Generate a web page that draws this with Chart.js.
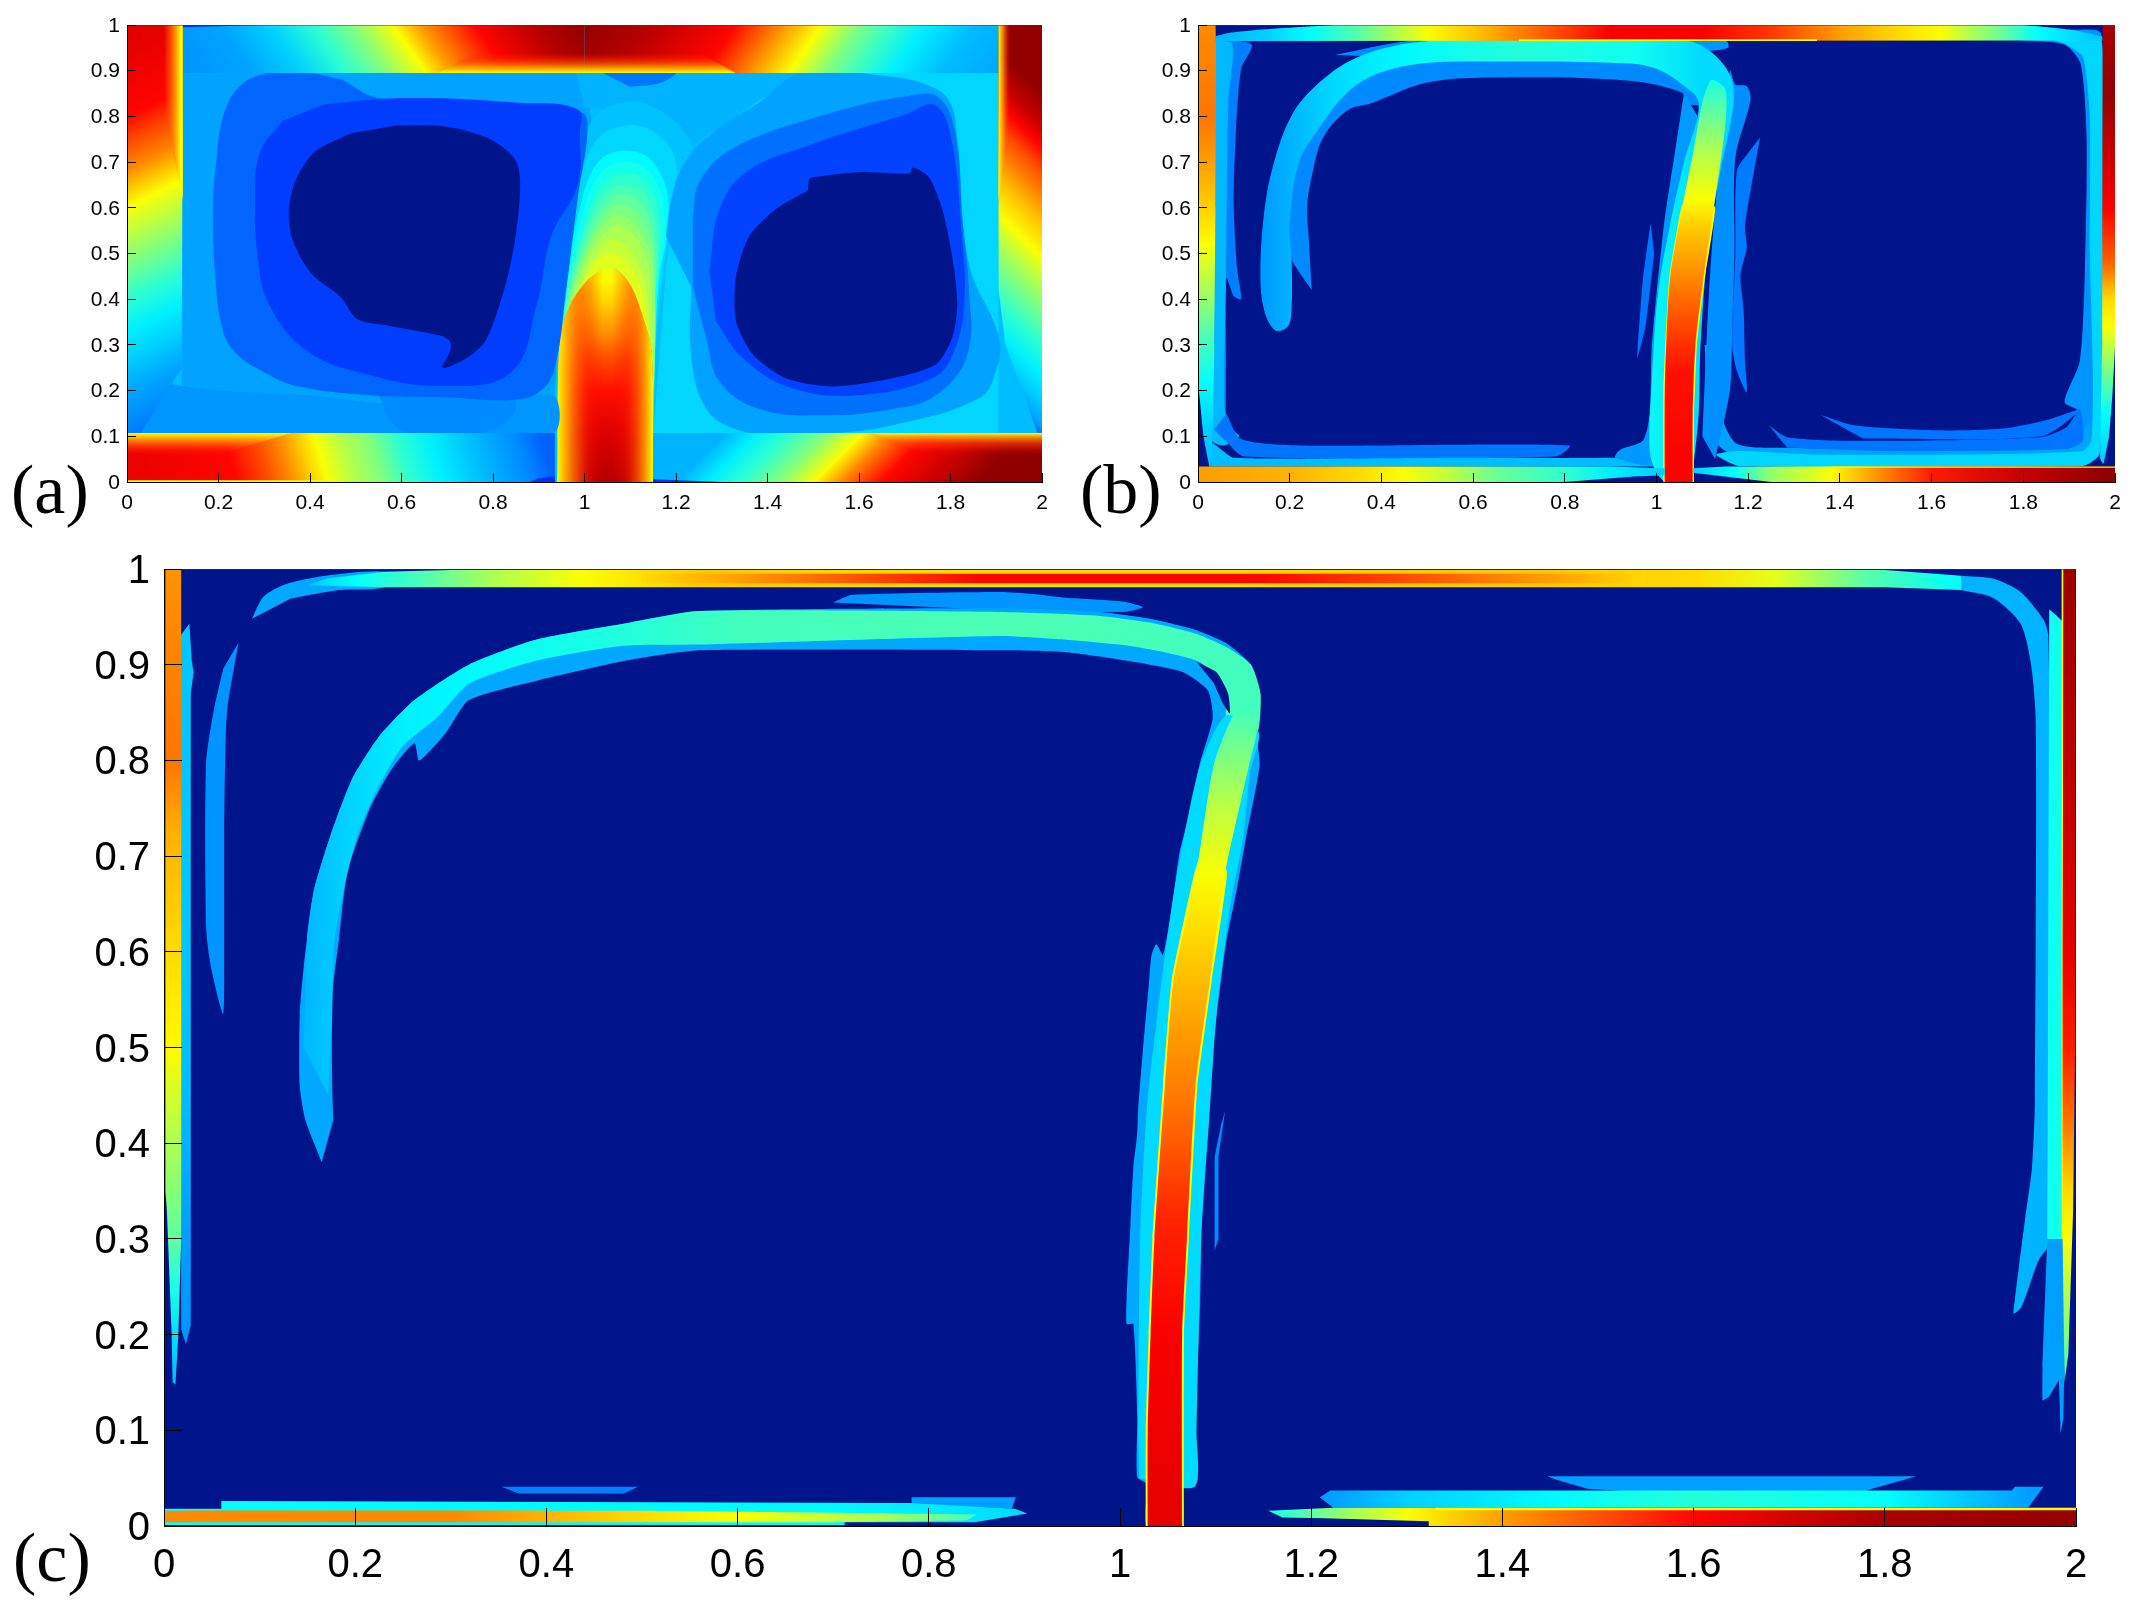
<!DOCTYPE html>
<html><head><meta charset="utf-8"><title>Panels</title>
<script src="https://cdn.jsdelivr.net/npm/chart.js@4/dist/chart.umd.min.js"></script>
<style>
html,body{margin:0;padding:0;background:#fff;width:2142px;height:1616px;overflow:hidden}
canvas{position:absolute}
.tag{position:absolute;font-family:"Liberation Serif",serif;font-size:70px;line-height:70px;color:#000}
</style></head><body>
<canvas id="pa" width="1005" height="515" style="left:60px;top:5px"></canvas>
<canvas id="pb" width="1005" height="515" style="left:1130px;top:5px"></canvas>
<canvas id="pc" width="2060" height="1076" style="left:60px;top:540px"></canvas>
<div class="tag" style="left:11px;top:455px">(a)</div>
<div class="tag" style="left:1080px;top:455px">(b)</div>
<div class="tag" style="left:13px;top:1523px">(c)</div>
<script>
const xTicks=[0,0.2,0.4,0.6,0.8,1,1.2,1.4,1.6,1.8,2];
const yTicks=[0,0.1,0.2,0.3,0.4,0.5,0.6,0.7,0.8,0.9,1];
const field=[0,0,2,0,2,1,0,1];
const frameTop=[0,1,2,1];

/* ---------- panel (a): contour outlines, x,y pairs ---------- */
const aLeftInt=[.12,.1,.12,.9,.4,.9,1,.9,1.02,.75,.95,.1];
const aRightInt=[1.15,.1,1.19,.62,1.27,.76,1.42,.86,1.5,.9,1.905,.9,1.905,.1];
const aMidTop=[.98,.9,1.5,.9,1.42,.86,1.27,.76,1.2,.72,1.1,.8,1.0,.82];
const aMidPatch=[1.03,.9,1.2,.9,1.17,.875,1.1,.865];
const aLowBand=[0,.107,.93,.107,.93,.19,.6,.17,.4,.19,.2,.2,0,.23];
const aLowLump=[.55,.19,.58,.13,.62,.107,.72,.107,.8,.115,.85,.16,.84,.19];
const aArch1=[.93,.1,.95,.4,.98,.62,1.01,.78,1.08,.83,1.17,.81,1.24,.72,1.2,.6,1.16,.3,1.15,.1];
const aArch2=[.94,.1,.95,.4,.985,.62,1.02,.74,1.09,.78,1.16,.76,1.2,.7,1.19,.6,1.155,.3,1.15,.1];
const aArch3=[.94,.1,.955,.4,.99,.6,1.03,.7,1.09,.725,1.15,.7,1.185,.6,1.165,.45,1.15,.3,1.15,.1];
const aArch3b=[.94,.1,.958,.4,.995,.58,1.035,.675,1.09,.7,1.145,.675,1.175,.58,1.16,.42,1.15,.1];
const aArch4=[.94,.1,.96,.4,1,.56,1.04,.65,1.09,.675,1.14,.65,1.165,.55,1.155,.4,1.15,.1];
const aArch4b=[.94,.1,.96,.39,1,.54,1.04,.625,1.085,.65,1.135,.625,1.16,.525,1.152,.37,1.15,.1];
const aArch5=[.94,.1,.96,.38,1,.52,1.04,.6,1.08,.63,1.13,.6,1.155,.5,1.15,.35,1.15,.1];
const aArch5b=[.94,.1,.961,.37,1,.505,1.04,.58,1.078,.607,1.125,.575,1.152,.48,1.15,.1];
const aArch6=[.94,.1,.962,.36,1,.49,1.04,.56,1.075,.585,1.12,.55,1.15,.46,1.15,.1];
const aArch6b=[.94,.1,.964,.355,1,.475,1.04,.54,1.072,.562,1.115,.53,1.145,.44,1.15,.1];
const aArch7=[.94,.1,.965,.35,1,.45,1.035,.51,1.065,.53,1.105,.5,1.137,.41,1.15,.1];
const aArch7b=[.94,.1,.965,.34,1,.44,1.03,.485,1.062,.5,1.1,.47,1.132,.39,1.15,.1];
const aCore=[.94,0,.945,.3,.965,.38,1,.435,1.03,.46,1.06,.465,1.095,.44,1.125,.37,1.147,.28,1.15,0];
const aCoreStops=[[0,.95],[.1,.91],[.2,.86],[.27,.8],[.32,.74],[.38,.68],[.44,.63],[.49,.6]];
const aCoreL=[.94,0,.945,.3,.965,.38,1,.435,1.03,.46,1.04,.462,1.04,0];
const aCoreLStops=[[.94,.62,1],[.96,.7,.9],[.985,.78,.7],[1.01,.85,.35],[1.04,.88,0]];
const aCoreR=[1.06,0,1.06,.465,1.095,.44,1.125,.37,1.147,.28,1.15,0];
const aCoreRStops=[[1.06,.88,0],[1.09,.85,.35],[1.115,.78,.7],[1.135,.7,.9],[1.15,.62,1]];
const aBlueL1=[.386,.9,.3,.893,.245,.865,.21,.8,.195,.7,.188,.6,.193,.45,.21,.33,.24,.28,.3,.24,.37,.21,.53,.19,.7,.185,.85,.18,.905,.2,.935,.25,.96,.42,.985,.62,1.007,.78,.99,.81,.8,.82,.55,.84,.47,.88];
const aBlueL2=[.43,.826,.61,.84,.855,.83,.985,.815,.99,.76,.985,.65,.928,.54,.896,.39,.84,.24,.69,.21,.53,.234,.395,.286,.31,.39,.285,.5,.28,.61,.29,.72,.34,.79];
const aDarkL=[.589,.78,.694,.778,.79,.752,.847,.708,.859,.663,.855,.582,.839,.479,.815,.39,.783,.308,.742,.271,.69,.25,.706,.286,.706,.308,.686,.32,.572,.342,.504,.356,.467,.405,.403,.456,.362,.53,.354,.597,.37,.663,.411,.723,.49,.763];
const aBlueR1=[1.178,.538,1.19,.62,1.22,.7,1.28,.765,1.38,.83,1.477,.896,1.651,.889,1.746,.87,1.797,.834,1.815,.75,1.84,.479,1.906,.316,1.899,.242,1.862,.183,1.673,.124,1.528,.105,1.418,.101,1.309,.124,1.258,.175,1.233,.279,1.233,.427];
const aBlueR2=[1.237,.582,1.251,.656,1.324,.73,1.528,.804,1.71,.845,1.775,.841,1.811,.76,1.826,.575,1.84,.427,1.837,.279,1.768,.19,1.673,.16,1.528,.146,1.382,.16,1.295,.22,1.266,.316,1.237,.427];
const aBlueR3=[1.273,.464,1.295,.597,1.353,.678,1.491,.737,1.702,.804,1.765,.825,1.8,.76,1.825,.538,1.83,.39,1.805,.279,1.76,.227,1.6,.19,1.455,.205,1.346,.271,1.287,.353];
const aDarkR=[1.491,.663,1.499,.667,1.6,.678,1.71,.675,1.718,.688,1.753,.667,1.782,.597,1.804,.493,1.815,.39,1.804,.316,1.768,.257,1.673,.227,1.542,.209,1.44,.227,1.368,.279,1.331,.353,1.331,.449,1.36,.538,1.418,.597,1.488,.638];
const aTopL=[.12,.895,.12,1,1,1,1,.895];
const aTopLStops=[[.05,.27],[.2,.285],[.31,.33],[.41,.42],[.49,.5],[.58,.62],[.637,.72],[.76,.87],[.9,.95],[1,.98]];
const aTopR=[1,.895,1,1,1.905,1,1.905,.895];
const aTopRStops=[[1,.98],[1.13,.95],[1.33,.87],[1.43,.74],[1.52,.62],[1.6,.5],[1.66,.44],[1.745,.36],[1.85,.31],[1.97,.29]];
const aTopEdge=[.68,.895,.76,.94,1.25,.94,1.33,.895];
const aTopEdgeStops=[[.895,.62,1],[.905,.7,.9],[.92,.8,.6],[.94,.87,0]];
const aTopDim=[.12,.995,.12,1,.3,1];
const aLeft=[0,.107,.03,.107,.12,.25,.122,1,0,1];
const aLeftStops=[[.05,.22],[.13,.26],[.18,.28],[.22,.3],[.27,.33],[.33,.36],[.4,.42],[.46,.48],[.52,.54],[.6,.62],[.64,.68],[.68,.74],[.74,.8],[.8,.87],[.95,.9],[1,.9]];
const aLeftEdge=[.122,.62,.122,1,.08,1,.085,.8];
const aLeftEdgeStops=[[.08,.8,0],[.09,.8,.6],[.105,.72,.9],[.118,.62,1],[.122,.62,1]];
const aBL=[0,0,.935,0,.935,.107,0,.107];
const aBLStops=[[-.04,.9],[.24,.87],[.31,.8],[.36,.74],[.4,.68],[.44,.62],[.49,.56],[.56,.5],[.62,.42],[.69,.36],[.78,.31],[.88,.26],[.935,.22]];
const aBLEdge=[0,.06,.2,.06,.36,.107,0,.107];
const aBLEdgeStops=[[.06,.85,0],[.075,.8,.5],[.095,.7,.9],[.107,.62,1]];
const aBLThin=[0,0,.43,0,.43,.004,0,.004];
const aBL0=[.88,0,.935,0,.935,.012,.9,.008];
const aBR=[1.15,0,2,0,2,.107,1.15,.107];
const aBRStops=[[1.04,.3],[1.2,.3],[1.27,.36],[1.34,.42],[1.42,.5],[1.46,.56],[1.5,.62],[1.53,.68],[1.56,.74],[1.6,.8],[1.65,.87],[1.76,.93],[1.85,.98],[2,.99]];
const aBREdge=[1.63,.107,2,.107,2,.06,1.75,.06];
const aBREdgeStops=[[.06,.87,0],[.085,.8,.6],[.1,.7,.9],[.107,.62,1]];
const aBRThin=[1.15,0,1.3,0,1.15,.006];
const aRight=[1.905,1,2,1,2,.108,1.99,.108,1.92,.3,1.905,.42];
const aRightStops=[[.09,.2],[.12,.28],[.17,.32],[.23,.36],[.3,.42],[.38,.5],[.44,.56],[.49,.62],[.56,.68],[.62,.74],[.68,.8],[.73,.87],[.78,.93],[.85,.98],[1,.98]];
const aRightEdge=[1.905,.62,1.905,1,1.93,1,1.93,.76];
const aRightEdgeStops=[[1.905,.62,1],[1.915,.72,.8],[1.93,.85,0]];

/* ---------- panel (b) ---------- */
const bLeftBlue=[.036,.968,.117,.957,.094,.904,.082,.754,.078,.603,.085,.47,.094,.4,.078,.407,.062,.445,.058,.1,.031,.1];
const bLeftCyan=[.036,.97,.075,.958,.066,.83,.062,.53,.058,.166,.07,.12,.09,.1,.058,.08,.031,.09,.036,.3];
const bBottomBlue=[.035,.115,.06,.09,.1,.056,.78,.056,.81,.08,.226,.08,.094,.094,.062,.15];
const bBottomCyan=[.03,.034,.031,.085,.078,.053,.577,.053,.91,.053,.95,.06,1,.06,1,.034];
const bLeftStrip=[0,1,.038,1,.038,.6,.036,.3,.033,.15,.031,.07,.03,.034,.025,.034,.012,.1,.004,.18,0,.22];
const bLeftStops=[[1,.74],[.8,.76],[.7,.72],[.6,.67],[.52,.62],[.42,.54],[.32,.45],[.22,.38],[.12,.33],[.03,.31]];
const bTopStrip=[.038,.965,.038,.975,.07,.983,.14,.99,.23,.996,.3,1,1.8,1,1.9,.99,1.972,.975,1.972,.965,1.8,.966];
const bTopStops=[[.04,.3],[.15,.33],[.25,.38],[.35,.46],[.5,.62],[.6,.68],[.75,.78],[.9,.88],[1.1,.88],[1.25,.82],[1.4,.72],[1.55,.65],[1.62,.62],[1.75,.48],[1.83,.38],[1.96,.32]];
const bTopEdge=[.7,.965,1.35,.965,1.35,.969,.7,.969];
const bBotL=[0,0,.8,0,.95,.012,1.018,.015,1.018,.03,.9,.034,0,.034];
const bBotLStops=[[0,.72],[.2,.7],[.35,.66],[.45,.62],[.55,.56],[.65,.48],[.8,.42],[.9,.36],[1,.33]];
const bBotR=[1.08,.03,1.15,.034,2,.034,2,0,1.25,0,1.08,.02];
const bBotRStops=[[1.08,.33],[1.17,.38],[1.25,.52],[1.38,.62],[1.5,.75],[1.6,.85],[1.8,.93],[2,.99]];
const bBotEdge=[1.38,.034,2,.034,2,.031,1.38,.031];
const bRingBlue=[1.785,.967,1.89,.957,1.925,.915,1.938,.754,1.934,.452,1.923,.264,1.89,.175,1.92,.155,1.9,.1,1.95,.06,1.97,.3,1.97,.98,1.9,.99];
const bRingCyan=[1.8,.985,1.9,.985,1.972,.96,1.972,.2,1.966,.06,1.93,.035,1.18,.035,1.13,.06,1.176,.068,1.357,.06,1.647,.06,1.93,.068,1.948,.09,1.952,.226,1.945,.5,1.945,.8,1.93,.93,1.89,.96];
const bLowLight=[1.128,.3,1.14,.15,1.176,.083,1.285,.075,1.647,.072,1.916,.083,1.94,.13,1.95,.07,1.93,.055,1.18,.055,1.12,.1,1.105,.3];
const bLowPatch=[1.245,.124,1.285,.098,1.451,.09,1.836,.098,1.894,.12,1.923,.158,1.93,.09,1.894,.072,1.5,.068,1.285,.075];
const bUpPatch=[1.357,.147,1.43,.124,1.611,.113,1.756,.117,1.85,.135,1.923,.158,1.84,.1,1.45,.095];
const bStemRight=[1.128,.05,1.16,.2,1.165,.33,1.17,.5,1.172,.71,1.205,.836,1.197,.866,1.172,.87,1.16,.9,1.12,.5,1.1,.1];
const bTopPatch=[1,.965,1.152,.965,1.156,.95,1.1,.943,1,.955];
const bTopPatch2=[.3,.935,.46,.965,.64,.968,.6,.95,.4,.93];
const bRightPatch=[1.226,.754,1.2,.72,1.175,.68,1.172,.5,1.165,.3,1.176,.241,1.197,.196,1.193,.264,1.19,.377,1.183,.452,1.197,.513,1.193,.56,1.212,.678];
const bArcInner=[.248,.42,.242,.527,.238,.603,.25,.678,.273,.754,.327,.814,.378,.829,.5,.874,.655,.885,.94,.878,1.056,.852,1.063,.829,1.1,.83,1.05,.92,.6,.93,.4,.9,.3,.84,.23,.75,.2,.6,.204,.49,.22,.46];
const bLeftOfStem=[1.06,.85,1.04,.72,1.016,.56,.99,.3,.985,.15,.97,.09,.92,.07,.91,.053,1,.04,1.02,.2,1.06,.55,1.09,.8];
const bLeftPatch=[.987,.566,.97,.44,.958,.271,.976,.34,.987,.43,.995,.5];
const bStem=[1.08,.03,1.092,.15,1.096,.3,1.114,.527,1.139,.678,1.168,.829,1.161,.889,1.118,.942,1.067,.965,.9,.97,.639,.97,.46,.96,.343,.927,.257,.867,.203,.8,.164,.693,.144,.588,.136,.452,.144,.377,.168,.332,.195,.339,.204,.377,.204,.49,.2,.565,.218,.693,.25,.754,.343,.867,.46,.912,.655,.92,.94,.916,1,.904,1.05,.874,1.092,.829,1.06,.7,1.03,.565,1.003,.41,.99,.22,.985,.07,1,.02,1.018,0];
const bStemStops=[[.13,.27],[.2,.3],[.3,.34],[.45,.37],[.7,.41],[.95,.39],[1.1,.34],[1.2,.34]];
const bHotEdge=[1.015,0,1.015,.2,1.02,.32,1.028,.45,1.054,.6,1.09,.66,1.128,.6,1.106,.45,1.088,.3,1.082,.15,1.082,0];
const bHot=[1.018,0,1.018,.2,1.022,.32,1.03,.45,1.056,.6,1.08,.72,1.1,.83,1.12,.88,1.15,.86,1.15,.78,1.125,.6,1.103,.45,1.085,.3,1.079,.15,1.079,0];
const bHotStops=[[0,.88],[.24,.86],[.35,.8],[.45,.74],[.55,.68],[.62,.62],[.72,.55],[.85,.43],[.9,.38]];
const bRightStrip=[1.973,1,2,1,2,.3,1.995,.2,1.987,.1,1.975,.04,1.968,.05,1.972,.3];
const bRightStops=[[1,.96],[.85,.98],[.7,.92],[.6,.88],[.48,.78],[.4,.66],[.34,.62],[.25,.5],[.15,.38],[.05,.33]];

/* ---------- panel (c) ---------- */
const cLeftBand=[.017,.93,.0266,.943,.029,.904,.031,.892,.028,.87,.028,.21,.023,.19,.018,.205];
const cLeftBandStops=[[.94,.32],[.6,.32],[.45,.31],[.3,.28],[.19,.27]];
const cLeftStrip=[.0015,1,.018,1,.018,.3,.015,.2,.012,.148,.009,.15,.008,.2,.003,.33,.0015,.35];
const cLeftStops=[[1,.73],[.95,.74],[.8,.76],[.72,.7],[.6,.66],[.5,.63],[.42,.56],[.3,.47],[.25,.4],[.18,.33],[.15,.31]];
const cPatch=[.078,.923,.073,.896,.066,.852,.064,.803,.063,.721,.063,.572,.062,.535,.057,.55,.048,.59,.044,.628,.044,.796,.052,.852,.062,.896];
const cTopWedge=[.092,.948,.104,.971,.127,.984,.169,.993,.23,.997,.23,.981,.183,.978,.132,.969];
const cTop=[.15,.983,.17,.99,.23,.997,.3,.999,1.8,.999,1.88,.993,1.88,.978,1.8,.981,.23,.981];
const cTopStops=[[.15,.32],[.2,.38],[.27,.45],[.35,.55],[.435,.62],[.56,.68],[.85,.66],[1.1,.66],[1.3,.68],[1.45,.68],[1.6,.66],[1.686,.6],[1.78,.46],[1.87,.38]];
const cTopCore=[.5,.985,.5,.995,1.55,.995,1.55,.985];
const cTopCoreStops=[[.5,.66],[.7,.78],[.85,.87],[1.15,.87],[1.3,.8],[1.45,.72],[1.55,.66]];
const cPatchTop=[.7,.965,.72,.973,.874,.976,.909,.974,.944,.97,1.003,.966,1.024,.96,1.003,.955,.874,.957];
const cArc=[.165,.38,.148,.424,.142,.46,.142,.535,.146,.583,.15,.617,.157,.665,.174,.721,.197,.781,.225,.825,.262,.863,.319,.9,.389,.926,.482,.943,.56,.956,.874,.959,.979,.955,1.031,.948,1.077,.937,1.112,.922,1.137,.9,1.147,.869,1.143,.828,1.146,.795,1.132,.72,1.122,.664,1.111,.609,1.101,.534,1.097,.497,1.092,.445,1.089,.386,1.085,.306,1.084,.236,1.078,.097,1.078,.041,1.065,.058,1.065,.002,1.028,.002,1.028,.044,1.018,.051,1.018,.114,1.014,.211,1.007,.211,1.007,.239,1.011,.316,1.014,.375,1.018,.41,1.019,.435,1.024,.497,1.03,.564,1.033,.597,1.038,.608,1.045,.597,1.054,.645,1.062,.702,1.073,.746,1.083,.795,1.097,.844,1.092,.873,1.066,.892,1.014,.903,.944,.913,.874,.915,.56,.915,.482,.904,.389,.883,.319,.863,.295,.829,.267,.8,.262,.818,.239,.792,.216,.751,.192,.684,.183,.613,.176,.553,.176,.46,.177,.424];
const cArcCore=[.146,.5,.15,.617,.157,.665,.174,.721,.197,.781,.225,.825,.262,.863,.319,.9,.389,.926,.482,.943,.56,.956,.874,.955,.979,.951,1.031,.944,1.077,.933,1.112,.918,1.137,.9,1.147,.869,1.143,.828,1.111,.847,1.113,.87,1.083,.903,1.014,.919,.944,.926,.874,.93,.56,.921,.482,.92,.389,.904,.319,.88,.286,.845,.249,.814,.221,.766,.202,.721,.188,.665,.178,.609,.176,.535,.172,.45];
const cArcStops=[[.14,.3],[.19,.33],[.25,.36],[.32,.37],[.45,.4],[.6,.44],[.9,.45],[1.1,.44]];
const cGap=[1.08,.903,1.101,.892,1.113,.87,1.115,.849,1.108,.859,1.098,.881];
const cStemCyan=[1.019,.1,1.021,.3,1.028,.435,1.039,.534,1.054,.646,1.067,.72,1.084,.795,1.111,.847,1.145,.83,1.136,.787,1.129,.72,1.115,.646,1.101,.534,1.094,.435,1.085,.3,1.08,.1,1.078,.041,1.02,.05];
const cStemEdge=[1.027,0,1.027,.1,1.03,.2,1.034,.3,1.045,.46,1.054,.57,1.078,.683,1.095,.73,1.112,.683,1.096,.57,1.081,.46,1.072,.3,1.067,.2,1.067,0];
const cStemHot=[1.029,0,1.029,.1,1.032,.2,1.036,.3,1.047,.46,1.056,.57,1.08,.683,1.098,.795,1.12,.85,1.14,.86,1.143,.83,1.135,.795,1.11,.683,1.094,.57,1.079,.46,1.07,.3,1.065,.2,1.065,0];
const cHotStops=[[0,.9],[.2,.88],[.32,.84],[.44,.76],[.52,.72],[.62,.66],[.68,.62],[.75,.56],[.82,.48],[.87,.42]];
const cThinR=[1.11,.434,1.103,.386,1.103,.3,1.099,.288,1.099,.386,1.106,.42];
const cRightBlue=[1.88,.993,1.913,.99,1.942,.976,1.966,.947,1.971,.93,1.975,.6,1.975,.3,1.961,.278,1.943,.229,1.935,.222,1.936,.236,1.947,.323,1.954,.375,1.957,.445,1.958,.84,1.953,.9,1.942,.943,1.913,.97,1.879,.978];
const cRightCyan=[1.972,.958,1.986,.945,1.986,.3,1.984,.16,1.975,.16,1.97,.3];
const cRightLow=[1.97,.3,1.965,.166,1.965,.131,1.972,.135,1.982,.152,1.984,.097,1.987,.114,1.99,.3];
const cRightEdge=[1.985,1,1.987,1,1.987,.3,1.985,.3];
const cRightHot=[1.987,1,1.999,1,1.999,.5,1.997,.33,1.992,.18,1.988,.15,1.986,.3,1.986,.6];
const cRightStops=[[1,.97],[.8,.94],[.6,.9],[.5,.85],[.42,.76],[.35,.66],[.3,.62],[.2,.5],[.15,.42]];
const cSmallL=[.353,.041,.496,.041,.481,.034,.371,.034];
const cUpperL=[.782,.03,.891,.03,.887,.018,.782,.023];
const cBotL=[.06,.026,.78,.024,.89,.018,.903,.013,.848,.004,.712,.004,.712,.001,0,.001,0,.018,.06,.018];
const cBotLStops=[[0,.38],[.4,.37],[.7,.37],[.9,.34]];
const cBotLCore=[0,.004,0,.016,.5,.016,.85,.012,.84,.006,.7,.004];
const cBotLCoreStops=[[0,.74],[.3,.74],[.5,.66],[.6,.62],[.75,.54],[.85,.44]];
const cSweep=[1.209,.03,1.22,.037,1.933,.037,1.936,.041,1.966,.041,1.95,.019,1.223,.019];
const cSweepStops=[[1.22,.28],[1.3,.33],[1.45,.37],[1.6,.41],[1.8,.38],[1.95,.28]];
const cUpperR=[1.447,.052,1.833,.052,1.787,.039,1.773,.034,1.567,.034,1.489,.039,1.454,.049];
const cBotR=[1.155,.016,1.17,.009,1.213,.008,1.323,.005,1.323,0,2,0,2,.019,1.223,.019];
const cBotRStops=[[1.16,.4],[1.22,.5],[1.3,.62],[1.4,.72],[1.6,.87],[1.8,.96],[2,.98]];
const cBotRThin=[1.33,.0165,2,.0165,2,.019,1.33,.019];

/* paint order: outline, contour level (or gradient stops along x/y with isoline slant), corner smoothing */
const panelA=[[field,.31,0],[aLeftInt,.285,0],[aRightInt,.335,0],[aMidTop,.3,.2],[aMidPatch,.24,.4],[aArch1,.315,.4],
 [aArch2,.335,.4],[aArch3,.37,.4],[aArch3b,.395,.4],[aArch4,.42,.4],[aArch4b,.445,.4],[aArch5,.47,.4],[aArch5b,.495,.4],[aArch6,.52,.4],[aArch6b,.545,.4],[aArch7,.57,.4],[aArch7b,.595,.4],
 [aCore,{y:aCoreStops},.35],[aCoreL,{x:aCoreLStops},.35],[aCoreR,{x:aCoreRStops},.35],
 [aLowBand,.272,.3],[aLowLump,.26,.4],[aBlueL1,.225,.4],[aBlueL2,.185,.4],[aDarkL,0,.3],[aBlueR1,.285,.4],[aBlueR2,.235,.4],[aBlueR3,.19,.4],[aDarkR,0,.25],
 [aBL,{x:aBLStops,k:.3,ref:0},0],[aBLEdge,{y:aBLEdgeStops},0],[aBLThin,.6,0],[aBL0,.17,0],
 [aBR,{x:aBRStops,k:-1,ref:0},0],[aBREdge,{y:aBREdgeStops},0],[aBRThin,.17,0],
 [aTopL,{x:aTopLStops,k:.7,ref:1},0],[aTopR,{x:aTopRStops,k:-.7,ref:1},0],[aTopEdge,{y:aTopEdgeStops},0],[aTopDim,.17,0],
 [aLeft,{y:aLeftStops,k:.5,ref:0},0],[aLeftEdge,{x:aLeftEdgeStops},0],
 [aRight,{y:aRightStops,k:-1,ref:2},0],[aRightEdge,{x:aRightEdgeStops},0]];
const panelB=[[field,0,0],
 [bLeftBlue,.25,.25],[bLeftCyan,.305,.25],[bBottomBlue,.24,.25],[bBottomCyan,.31,.15],[bRingBlue,.27,.25],[bLowLight,.285,.25],[bLowPatch,.24,.25],[bUpPatch,.24,.25],[bRingCyan,.335,.2],
 [bStemRight,.265,.3],[bRightPatch,.245,.25],[bTopPatch,.27,.3],[bTopPatch2,.26,.3],[bArcInner,.26,.35],[bLeftOfStem,.275,.25],[bLeftPatch,.24,.15],
 [bStem,{x:bStemStops},.35],[bHotEdge,.62,.1],[bHot,{y:bHotStops},.25],
 [bLeftStrip,{y:bLeftStops},.1],[bTopStrip,{x:bTopStops},.1],[bTopEdge,.62,0],[bBotL,{x:bBotLStops},0],[bBotR,{x:bBotRStops},0],[bBotEdge,.62,0],[bRightStrip,{y:bRightStops},.1]];
const panelC=[[field,0,0],
 [cLeftBand,{y:cLeftBandStops},0],[cPatch,.27,.25],[cTopWedge,.29,.25],[cRightBlue,.3,.25],[cRightCyan,.39,.05],[cRightLow,.28,.05],
 [cPatchTop,.27,.2],[cArc,.29,.2],[cArcCore,{x:cArcStops},.2],[cGap,0,.2],[cStemCyan,.34,.25],[cStemEdge,.62,.1],[cStemHot,{y:cHotStops},.2],[cThinR,.26,0],
 [cSmallL,.25,0],[cUpperL,.28,0],[cBotL,{x:cBotLStops},0],[cBotLCore,{x:cBotLCoreStops},.05],[cUpperR,.28,0],[cSweep,{x:cSweepStops},0],[cBotR,{x:cBotRStops},0],[cBotRThin,.62,0],
 [cTop,{x:cTopStops},0],[cTopCore,{x:cTopCoreStops},0],[cLeftStrip,{y:cLeftStops},0],[cRightEdge,.62,0],[cRightHot,{y:cRightStops},0]];

function jet(v,al=1){
  if(v===0) return '#00148b';
  const c=t=>Math.round(255*Math.max(0,Math.min(1,t)));
  return `rgba(${c(Math.min(4*v-1.5,-4*v+4.5))},${c(Math.min(4*v-.5,-4*v+3.5))},${c(Math.min(4*v+.5,-4*v+2.5))},${al})`;
}
function pairs(a){const o=[];for(let i=0;i<a.length;i+=2)o.push({x:a[i],y:a[i+1]});return o;}
function paint(spec){
  if(typeof spec==='number') return jet(spec);
  const axis=spec.x?'x':'y', stops=spec[axis], k=spec.k||0;
  return ctx=>{
    const ch=ctx.chart, xs=ch.scales.x, ys=ch.scales.y;
    if(!xs||!ys||!ch.chartArea) return jet(stops[0][1]);
    const a=xs.getPixelForValue(1)-xs.getPixelForValue(0), b=ys.getPixelForValue(0)-ys.getPixelForValue(1);
    const u0=stops[0][0], u1=stops[stops.length-1][0], ref=spec.ref||0;
    const at=u=>axis==='x'?[xs.getPixelForValue(u),ys.getPixelForValue(ref)]:[xs.getPixelForValue(ref),ys.getPixelForValue(u)];
    const iso=axis==='x'?[a*k,b]:[a,-b*k], len=Math.hypot(iso[0],iso[1]), n=[iso[1]/len,-iso[0]/len];
    const p0=at(u0), p=at(u1), proj=(p[0]-p0[0])*n[0]+(p[1]-p0[1])*n[1];
    const g=ch.ctx.createLinearGradient(p0[0],p0[1],p0[0]+n[0]*proj,p0[1]+n[1]*proj);
    for(const [pos,v,al] of stops) g.addColorStop((pos-u0)/(u1-u0),jet(v,al===undefined?1:al));
    return g;
  };
}
function build(id,layers,o){
  const datasets=layers.map(([pts,spec,t])=>({data:pairs(pts),fill:'shape',backgroundColor:paint(spec),borderWidth:0,pointRadius:0,tension:t}));
  datasets.push({data:pairs(frameTop),fill:false,borderColor:'#0b4a63',borderWidth:1,pointRadius:0,tension:0});
  datasets.reverse(); /* Chart.js paints the last dataset first */
  const tick={color:'#000',font:{family:'"Liberation Sans"',size:o.font},maxRotation:0,autoSkip:false,callback:v=>String(v)};
  const noPad=s=>{s.paddingTop=0;s.paddingBottom=0;s.paddingLeft=0;s.paddingRight=0;};
  new Chart(document.getElementById(id),{type:'line',data:{datasets},options:{
    responsive:false,animation:false,events:[],devicePixelRatio:1,
    layout:{autoPadding:false,padding:{left:0,top:o.top,right:o.right,bottom:0}},
    plugins:{legend:{display:false},tooltip:{enabled:false}},
    scales:{
      x:{type:'linear',min:0,max:2,afterBuildTicks:s=>{s.ticks=xTicks.map(v=>({value:v}))},afterFit:s=>{s.height=o.xh;noPad(s)},
        grid:{drawOnChartArea:false,tickLength:-o.tl,tickColor:'#000',z:2},border:{color:'#000',z:2},ticks:{...tick,padding:o.xpad}},
      y:{type:'linear',min:0,max:1,afterBuildTicks:s=>{s.ticks=yTicks.map(v=>({value:v}))},afterFit:s=>{s.width=o.yw;noPad(s)},
        grid:{drawOnChartArea:false,tickLength:-o.tl,tickColor:'#000',z:2},border:{color:'#000',z:2},ticks:{...tick,padding:o.ypad,labelOffset:o.lo}}
    }}});
}
build('pa',panelA,{font:21,top:20,right:23,xh:38,yw:67,tl:9,xpad:18,ypad:16,lo:1});
build('pb',panelB,{font:21,top:20,right:20,xh:38,yw:68,tl:9,xpad:18,ypad:16,lo:1});
build('pc',panelC,{font:40,top:29,right:44,xh:90,yw:104,tl:18,xpad:34,ypad:32,lo:3});
</script>
</body></html>
